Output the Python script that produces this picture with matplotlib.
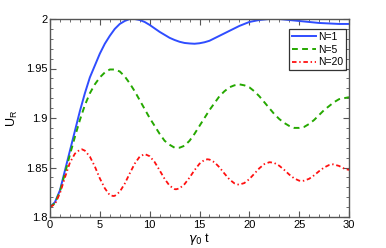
import matplotlib as mpl
import matplotlib.pyplot as plt
import numpy as np

# values
t_n1 = [0, 0.5, 1, 1.5, 2, 2.5, 3, 3.5, 4, 4.5, 5, 5.5, 6, 6.5, 7, 7.5, 8, 8.5, 9, 9.5,
        10, 10.5, 11, 11.5, 12, 12.5, 13, 13.5, 14, 14.5, 15, 15.5, 16, 17, 18, 19, 20, 21,
        22, 23, 24, 25, 26, 27, 28, 29, 30]
u_n1 = [1.810, 1.815, 1.827, 1.847, 1.867, 1.887, 1.907, 1.925, 1.941, 1.953, 1.965, 1.975,
        1.983, 1.990, 1.995, 1.998, 2.000, 2.000, 1.999, 1.997,
        1.994, 1.9905, 1.987, 1.984, 1.981, 1.9788, 1.977, 1.9758, 1.9753, 1.975, 1.9755,
        1.9765, 1.978, 1.983, 1.988, 1.993, 1.997,
        1.999, 2.000, 2.000, 1.999, 1.998, 1.997, 1.996, 1.9955, 1.995, 1.995]

t_n5 = [0, 0.5, 1, 1.5, 2, 2.5, 3, 3.5, 4, 4.5, 5, 5.5, 6, 6.5, 7, 7.5, 8, 8.5, 9, 9.5,
        10, 10.5, 11, 11.5, 12, 12.5, 13, 13.5, 14, 14.5, 15, 15.5, 16, 16.5, 17, 17.5,
        18, 18.5, 19, 19.5, 20, 20.5, 21, 21.5, 22, 22.5, 23, 23.5, 24, 24.5, 25, 25.5,
        26, 26.5, 27, 27.5, 28, 28.5, 29, 29.5, 30]
u_n5 = [1.810, 1.814, 1.826, 1.844, 1.863, 1.881, 1.898, 1.913, 1.925, 1.934, 1.941, 1.946,
        1.949, 1.949, 1.947, 1.942, 1.935, 1.927, 1.918, 1.909,
        1.900, 1.892, 1.884, 1.877, 1.873, 1.870, 1.870, 1.872, 1.877, 1.884, 1.892, 1.900,
        1.908, 1.915, 1.922, 1.927, 1.931, 1.933, 1.934, 1.933, 1.931, 1.927, 1.922, 1.916,
        1.910, 1.904, 1.899, 1.895, 1.892, 1.890, 1.890, 1.891, 1.894, 1.898, 1.903, 1.908,
        1.912, 1.916, 1.919, 1.920, 1.921]

t_n20 = [0, 0.5, 1, 1.5, 2, 2.5, 3, 3.2, 3.5, 4, 4.5, 5, 5.5, 6, 6.35, 6.5, 7, 7.5, 8, 8.5, 9, 9.5,
         10, 10.5, 11, 11.5, 12, 12.5, 12.65, 13, 13.5, 14, 14.5, 15, 15.5, 15.8, 16, 16.5, 17,
         17.5, 18, 18.5, 18.95, 19.5, 20, 20.5, 21, 21.5, 22, 22.1, 22.5, 23, 23.5, 24, 24.5, 25,
         25.25, 25.5, 26, 26.5, 27, 27.5, 28, 28.4, 29, 29.5, 30]
u_n20 = [1.810, 1.813, 1.824, 1.840, 1.855, 1.864, 1.868, 1.8684, 1.867, 1.861, 1.851, 1.839,
         1.829, 1.822, 1.8212, 1.8214, 1.8255, 1.8337, 1.844, 1.8539, 1.861, 1.8636,
         1.8614, 1.8555, 1.8471, 1.8385, 1.8316, 1.8282, 1.828, 1.8289, 1.8332, 1.8398, 1.8473,
         1.8538, 1.8577, 1.8583, 1.858, 1.8553, 1.8502, 1.8439, 1.838, 1.834, 1.8326,
         1.8343, 1.8383, 1.8437, 1.8492, 1.8534, 1.8553, 1.8553, 1.8546, 1.8518, 1.8476,
         1.8429, 1.839, 1.8367, 1.8364, 1.8367, 1.8386, 1.8421, 1.8463, 1.85, 1.8525, 1.8532,
         1.8516, 1.849, 1.8475]

labels = ['N=1', 'N=5', 'N=20']
y_ticks = [1.8, 1.85, 1.9, 1.95, 2.0]
y_ticklabels = ['1.8', '1.85', '1.9', '1.95', '2']
x_ticks = [0, 5, 10, 15, 20, 25, 30]

mpl.rcParams['font.family'] = 'Liberation Sans'
mpl.rcParams['font.size'] = 8

fig = plt.figure(figsize=(3.86, 2.48), dpi=100)
ax = fig.add_axes([50 / 386, 1 - 217 / 248, 299 / 386, 198 / 248])

ax.plot(t_n1, u_n1, color='#2f4dff', lw=1.4, label=labels[0])
ax.plot(t_n5, u_n5, color='#25a800', lw=1.4, ls=(0, (3, 2.2)), label=labels[1])
ax.plot(t_n20, u_n20, color='#ff1010', lw=1.3, ls=(0, (2.5, 1.5, 0.8, 1.5)), label=labels[2])

ax.set_xlim(0, 30)
ax.set_ylim(1.8, 2.0)
ax.set_xticks(x_ticks)
ax.set_yticks(y_ticks)
ax.set_yticklabels(y_ticklabels)
ax.xaxis.set_minor_locator(mpl.ticker.MultipleLocator(1))
ax.yaxis.set_minor_locator(mpl.ticker.MultipleLocator(0.01))
ax.tick_params(which='both', direction='in', top=True, right=True, color='#555555', pad=2)
ax.tick_params(which='major', length=4, width=0.8)
ax.tick_params(which='minor', length=2, width=0.6)
for s in ax.spines.values():
    s.set_color('#555555')
    s.set_linewidth(1.0)

ax.set_xlabel(r'$\gamma_0$ t', fontsize=9, labelpad=1)
ax.set_ylabel(r'U$_\mathregular{R}$', fontsize=9, labelpad=4)

leg = ax.legend(loc='upper right', bbox_to_anchor=(0.99, 0.95), fontsize=7.5, frameon=True,
                fancybox=False, handlelength=2.3, handletextpad=0.2, borderpad=0.3,
                labelspacing=0.25, borderaxespad=0)
leg.get_frame().set_edgecolor('black')
leg.get_frame().set_linewidth(0.9)

fig.savefig('out.png', dpi=100)
